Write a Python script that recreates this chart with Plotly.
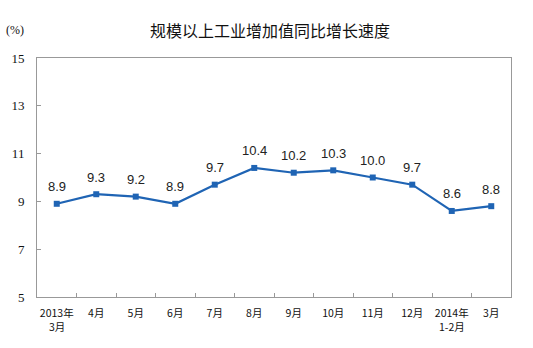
import plotly.graph_objects as go

categories = ["2013年", "4月", "5月", "6月", "7月", "8月", "9月", "10月", "11月", "12月", "2014年", "3月"]
categories_line2 = ["3月", "", "", "", "", "", "", "", "", "", "1-2月", ""]
values = [8.9, 9.3, 9.2, 8.9, 9.7, 10.4, 10.2, 10.3, 10.0, 9.7, 8.6, 8.8]
labels = ["8.9", "9.3", "9.2", "8.9", "9.7", "10.4", "10.2", "10.3", "10.0", "9.7", "8.6", "8.8"]
y_ticks = [5, 7, 9, 11, 13, 15]

W, H = 533, 348
l, r, t, b = 37, 22, 58, 51
pw, ph = W - l - r, H - t - b

def px_to_paper(px, py):
    return (px - l) / pw, (H - b - py) / ph

fig = go.Figure()
xs = list(range(len(categories)))
fig.add_trace(go.Scatter(
    x=xs, y=values,
    mode="lines+markers",
    line=dict(color="#1f64b4", width=2.2),
    marker=dict(symbol="square", size=6, color="#1f64b4"),
    cliponaxis=False,
))

anns = []
for xi, v, lab in zip(xs, values, labels):
    anns.append(dict(x=xi, y=v, xref="x", yref="y", text=lab, showarrow=False,
                     yshift=17, font=dict(family="Arial, Liberation Sans", size=13, color="#222")))
for xi, lab in zip(xs, categories_line2):
    if lab:
        anns.append(dict(x=xi, y=0, xref="x", yref="paper", text=lab, showarrow=False,
                         yanchor="middle", yshift=-29,
                         font=dict(family="Noto Sans CJK SC", size=10.5, color="#111")))
tx, ty = px_to_paper(270, 30)
anns.append(dict(text="规模以上工业增加值同比增长速度", x=tx, y=ty, xref="paper", yref="paper",
                 xanchor="center", yanchor="middle", showarrow=False,
                 font=dict(family="Noto Sans CJK SC", size=16, color="#111")))
px_, py_ = px_to_paper(15, 30)
anns.append(dict(text="(%)", x=px_, y=py_, xref="paper", yref="paper",
                 xanchor="center", yanchor="middle", showarrow=False,
                 font=dict(family="Liberation Serif", size=12, color="#111")))

fig.update_layout(
    width=W, height=H,
    margin=dict(l=l, r=r, t=t, b=b),
    paper_bgcolor="white", plot_bgcolor="white",
    showlegend=False,
    annotations=anns,
)
fig.update_xaxes(
    tickmode="array", tickvals=xs, ticktext=categories,
    range=[-0.5, len(categories) - 0.5],
    showgrid=False, showline=True, linecolor="#999", linewidth=1, mirror=True,
    ticks="", ticklabelstandoff=6,
    tickfont=dict(family="Noto Sans CJK SC", size=10.5, color="#111"),
    zeroline=False,
    minor=dict(tickmode="array", tickvals=[i + 0.5 for i in range(len(categories) - 1)],
               ticks="inside", ticklen=4, tickcolor="#999", showgrid=False),
)
fig.update_yaxes(
    range=[5, 15], tickvals=y_ticks, showgrid=False, showline=True, linecolor="#999",
    linewidth=1, mirror=True, ticks="inside", ticklen=4, tickcolor="#999",
    ticklabelstandoff=9,
    tickfont=dict(family="Liberation Serif", size=13, color="#111"), zeroline=False,
)
fig.write_html("out.html")
